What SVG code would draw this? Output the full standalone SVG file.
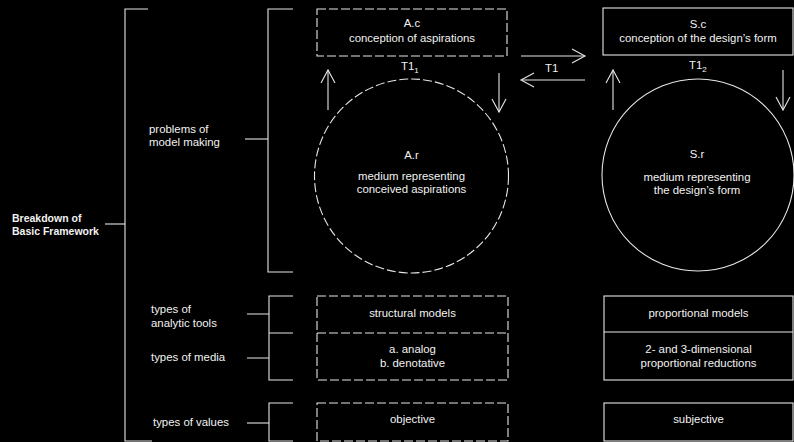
<svg xmlns="http://www.w3.org/2000/svg" width="794" height="442" viewBox="0 0 794 442">
<defs>
<style>
.bg{fill:#000}
.ln{fill:none;stroke:#e6e6e6;stroke-width:1.1}
.ds{fill:none;stroke:#e6e6e6;stroke-width:1.1;stroke-dasharray:9 3}
.t{font-family:"Liberation Sans",Arial,sans-serif;font-size:11.4px;fill:#f2f2f2}
.c{text-anchor:middle}
.b{font-weight:bold;font-size:10.5px}
.ar{fill:none;stroke:#e6e6e6;stroke-width:1.1;marker-end:url(#ah)}
</style>
<marker id="ah" markerUnits="userSpaceOnUse" markerWidth="16" markerHeight="16" viewBox="-14 -8 16 16" refX="0" refY="0" orient="auto">
<path d="M-13,-7 L0,0 L-13,7" fill="none" stroke="#e6e6e6" stroke-width="1.1"/>
</marker>
</defs>
<rect class="bg" x="0" y="0" width="794" height="442"/>

<g id="brackets">
<path class="ln" d="M148,9 H125 V441 H152"/>
<path class="ln" d="M105,224 H125"/>
<path class="ln" d="M293,9 H268 V272 H293"/>
<path class="ln" d="M245,139 H268"/>
<path class="ln" d="M293,296 H269 V380 H293 M269,333 H293"/>
<path class="ln" d="M247,314 H269 M247,358 H269"/>
<path class="ln" d="M293,403 H269 V441 H293"/>
<path class="ln" d="M247,423 H269"/>
</g>

<g id="labels">
<text class="t b" x="12" y="222">Breakdown of</text>
<text class="t b" x="12" y="235">Basic Framework</text>
<text class="t" x="149" y="133">problems of</text>
<text class="t" x="149" y="146">model making</text>
<text class="t" x="151" y="313">types of</text>
<text class="t" x="151" y="327">analytic tools</text>
<text class="t" x="151" y="361">types of media</text>
<text class="t" x="153" y="426">types of values</text>
</g>

<g id="node-Ac">
<rect class="ds" x="317" y="9" width="190" height="47"/>
<text class="t c" x="412" y="27">A.c</text>
<text class="t c" x="412" y="42">conception of aspirations</text>
</g>

<g id="node-Sc">
<rect class="ln" x="603" y="8" width="190" height="47"/>
<text class="t c" x="698" y="28">S.c</text>
<text class="t c" x="698" y="42">conception of the design’s form</text>
</g>

<g id="node-Ar">
<circle class="ds" cx="411.5" cy="176" r="97"/>
<text class="t c" x="411.5" y="159">A.r</text>
<text class="t c" x="411.5" y="180">medium representing</text>
<text class="t c" x="411.5" y="193">conceived aspirations</text>
</g>

<g id="node-Sr">
<circle class="ln" cx="698" cy="175" r="96"/>
<text class="t c" x="697" y="158">S.r</text>
<text class="t c" x="697" y="181">medium representing</text>
<text class="t c" x="697" y="194">the design’s form</text>
</g>

<g id="node-A-lower">
<rect class="ds" x="317" y="296" width="191" height="84"/>
<path class="ds" d="M317,333 H508"/>
<text class="t c" x="412.5" y="317">structural models</text>
<text class="t c" x="412.5" y="353">a. analog</text>
<text class="t c" x="412.5" y="367">b. denotative</text>
</g>

<g id="node-A-values">
<rect class="ds" x="317" y="403" width="191" height="38"/>
<text class="t c" x="412.5" y="423">objective</text>
</g>

<g id="node-S-lower">
<rect class="ln" x="604" y="296" width="189" height="84"/>
<path class="ln" d="M604,332 H793"/>
<text class="t c" x="698.5" y="317">proportional models</text>
<text class="t c" x="698.5" y="353">2- and 3-dimensional</text>
<text class="t c" x="698.5" y="367">proportional reductions</text>
</g>

<g id="node-S-values">
<rect class="ln" x="604" y="403" width="189" height="38"/>
<text class="t c" x="698.5" y="423">subjective</text>
</g>

<g id="connectors">
<path class="ar" d="M521,56 H585"/>
<path class="ar" d="M585,80 H521"/>
<path class="ar" d="M328,110 V70"/>
<path class="ar" d="M499,73 V112"/>
<path class="ar" d="M613,110 V70"/>
<path class="ar" d="M783,70 V110"/>
<text class="t" x="545" y="72">T1</text>
<text class="t" x="401" y="70">T1<tspan font-size="8" dy="3">1</tspan></text>
<text class="t" x="689" y="69">T1<tspan font-size="8" dy="3">2</tspan></text>
</g>
</svg>
